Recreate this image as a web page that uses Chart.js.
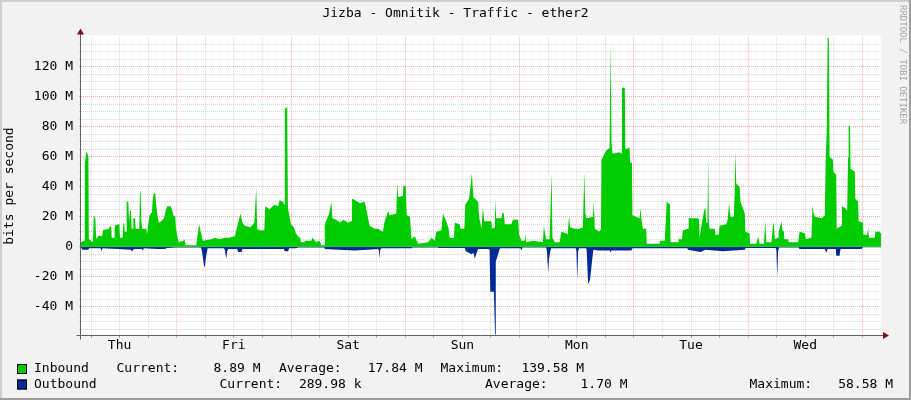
<!DOCTYPE html>
<html>
<head>
<meta charset="utf-8">
<script src="https://cdn.jsdelivr.net/npm/chart.js@4"></script>
<style>
  html, body { margin: 0; padding: 0; background: #f2f2f2; }
  #wrap { position: relative; width: 911px; height: 400px; }
</style>
</head>
<body>
<div id="wrap"><canvas id="trafficChart" width="911" height="400"></canvas></div>
<script>
// time axis: hours since Thu 00:00, values in Mbit/s
const startHour = 3.9;
const endHour = 171.9;
const dayNames = ["Thu", "Fri", "Sat", "Sun", "Mon", "Tue", "Wed"];
const yMin = -58.58;
const yMax = 139.58;

const chartTitle = "Jizba - Omnitik - Traffic - ether2";
const yAxisTitle = "bits per second";
const legendNames = ["Inbound", "Outbound"];
const inboundStats = ["8.89 M", "17.84 M", "139.58 M"];
const outboundStats = ["289.98 k", "1.70 M", "58.58 M"];

// [hour, Mbit/s]
const inbound = [
  [3.9,3],[4.6,4],[4.7,56],[5.1,64],[5.45,60],[5.55,5],[6.4,3],[6.6,21],[6.9,19],[7.05,8],
  [7.12,5],[7.61,7.5],[8.31,7],[8.52,11],[9.71,12],[10.06,14],[10.27,13],[10.34,6],[10.83,6],[10.97,12],
  [11.11,14.6],[11.95,15],[12.09,6],[12.65,6],[12.79,16],[13.0,15],[13.07,10],[13.35,10],[13.49,30],[13.84,30],
  [13.98,17],[14.19,24],[14.4,24],[14.54,12],[14.82,12],[14.89,19],[15.24,19],[15.38,12],[16.15,12],[16.29,38],
  [16.43,36],[16.57,17],[16.78,12],[17.62,12],[17.76,8],[17.97,14],[18.31,21],[18.8,23],[18.95,31],[19.23,36],
  [19.51,35],[19.65,29],[19.93,22],[20.21,16],[20.77,17],[21.32,19],[21.67,24],[22.03,27],[22.72,27],[23.0,25],
  [23.28,21],[23.7,20],[23.84,12],[24.2,6],[24.4,3],
  [25.4,4],[25.6,5],[25.9,1],[28.1,1],[28.4,8],[28.7,15],[29.1,9],[29.5,4],[31.3,5],[32,6],
  [33,5],[34.1,6],[35,6],[36.2,7],[36.6,12],[37.4,22],[37.8,16],[38.3,14],[39.5,13],[40.3,16],
  [40.7,39],[40.9,12],[41.4,11],[42.4,11],[42.6,27],[43.5,25],[44.5,28],[45.3,27],[45.6,31],[46.3,30],
  [46.6,28],[46.7,92],[47.2,93],[47.35,26],[47.7,20],[48.0,15],[48.6,13],[49,9],[49.7,6],[49.8,8],
  [50.1,3],[50.8,3],[51,4],[52.3,4],[52.5,6],[53.3,3],[54.0,4],[54.4,1],[55.05,1],[55.1,15],
  [56,22],[56.45,30],[56.7,19],[57.5,18],[58.3,16],[59,18],[60,16],[60.6,17],[60.8,32],[61.5,31],
  [62.5,29],[63.5,30],[64.5,14],[65.5,12],[66.3,12],[67.3,10],[67.6,16],[68.4,24],[68.7,21],[70.1,22],
  [70.3,43],[70.5,33],[71.5,34],[71.6,41],[72.1,40],[72.3,21],[73.0,20],[73.3,5],[74.0,7],[74.7,2],
  [76.8,3],[77.5,6],[78.2,4],[78.5,10],[79.6,11],[79.9,22],[80.5,18],[81.1,12],[81.3,6],[82.2,6],
  [82.4,16],[83.4,15],[83.6,12],[84.4,12],[84.6,28],[85.4,32],[85.6,38],[86.0,49],[86.3,33],[87.3,30],
  [87.5,20],[88,12],[88.3,26],[88.6,17],[89.5,17],[90.1,17],[90.2,12],[90.8,13],[90.9,31],[91.1,19],
  [92.2,19],[92.4,23],[92.7,22],[92.9,15],[94.3,15],[94.6,18],[95.7,18],[95.9,8],[96.4,4],[97.1,4],
  [97.2,9],[97.4,3],[98.8,4],[100.9,3],[101.1,14],[101.4,8],[101.6,5],[102.3,5],[102.75,49],[102.9,6],
  [103.4,3],[104.4,3],[104.8,10],[105.8,9],[106.1,8],[106.4,21],[106.6,13],[107.6,12],[108.6,12],[109.3,13],
  [109.6,50],[109.8,22],[110.1,19],[111.4,20],[111.6,30],[111.8,12],[112.8,10],[113.1,12],[113.2,58],[114.2,64],
  [114.9,66],[115.1,136],[115.3,70],[115.5,62],[117,63],[117.45,62],[117.5,106],[118.1,106],[118.2,65],[119.1,66],
  [119.2,56],[119.6,56],[119.7,21],[121.2,19],[121.4,26],[121.6,18],[121.9,12],[122.6,12],[122.7,2],[125.4,2],
  [125.5,4],[126.5,4],[126.9,30],[127.6,28],[127.7,3],[129.3,3],[129.4,5],[130.1,5],[130.3,11],[131.4,12],
  [131.5,19],[133.5,19],[133.7,18],[133.8,6],[134.2,14],[134.8,25],[135.0,26],[135.2,16],[135.45,16],[135.6,59],
  [135.75,16],[135.9,12],[137,12],[137.1,8],[137.8,8],[138,14],[139.4,15],[139.7,18],[140,29],[140.3,20],
  [141.0,20],[141.2,40],[141.3,64],[141.5,42],[142.2,40],[142.4,30],[143.3,22],[143.4,10],[144.3,9],[144.4,2],
  [145.7,2],[146.1,7],[146.4,2],[147.3,2],[147.6,17],[147.8,3],[148.9,3],[149.2,14],[149.4,16],[149.6,5],
  [150.3,6],[150.4,10],[151,17],[151.2,11],[151.5,10],[151.6,5],[152.4,5],[152.5,3],[154.5,3],[154.8,10],
  [155.9,9],[156.1,5],[157.3,6],[157.5,27],[157.8,22],[158,20],[159.5,19],[160.1,21],[160.3,60],[160.5,76],
  [160.7,139.58],[160.95,139],[161.1,60],[161.8,58],[161.9,50],[162.5,48],[162.6,12],[163.6,14],[163.7,27],[164.3,26],
  [164.8,24],[165.0,60],[165.1,81],[165.4,80],[165.5,52],[166.4,50],[166.5,32],[167.1,30],[167.2,17],[168.1,16],
  [168.2,8],[169.0,8],[169.2,12],[169.4,6],[170.6,6],[170.7,10],[171.6,10],[171.9,8.89]
];

// outbound is drawn below zero
const outbound = [
  [3.9,-0.5],[4.2,-2],[5.4,-2],[5.6,-1],[8.0,-1],[8.2,-3],[8.4,-1],[11.7,-1.5],[14.4,-2],[14.6,-3.5],
  [14.8,-2],[15.2,-1.5],[16.7,-1.5],[16.9,-2.5],[17.1,-1],[20,-1.5],[21.5,-1.5],[22,-0.8],[24,-0.5],[29.1,-0.5],
  [29.3,-3],[29.7,-12],[29.9,-14],[30.1,-8],[30.3,-4],[30.5,-1],[33.9,-1],[34.1,-2],[34.4,-8],[34.6,-3],
  [34.8,-1.5],[36.7,-1.5],[36.9,-3.5],[37.6,-3.5],[37.8,-1.5],[44,-1.5],[46.5,-1.5],[46.7,-3],[47.4,-3],[47.6,-1],
  [49.1,-1],[49.5,-0.5],[55,-0.5],[55.1,-1.5],[58,-2],[61.4,-2.5],[64,-2],[66.3,-1.5],[66.5,-3],[66.6,-8],
  [66.75,-2],[67,-1],[73.3,-1],[73.5,-0.5],[78.9,-0.5],[79,-0.8],[84.5,-0.8],[84.7,-3],[85.9,-5],[86.3,-4],
  [86.6,-8],[87,-4],[87.3,-1.5],[89.4,-1.5],[89.7,-2],[89.85,-30],[90.6,-30],[90.85,-58.58],[91.0,-10],[91.5,-5],
  [91.8,-1.5],[92,-1],[96.2,-1],[96.4,-2.5],[96.6,-0.5],[101.6,-0.5],[101.75,-3],[102.0,-17],[102.2,-8],[102.4,-4],
  [102.6,-1],[107.8,-1],[107.95,-3],[108.1,-22],[108.3,-3],[108.5,-1],[110,-1],[110.1,-3],[110.4,-25],[110.8,-22],
  [111.2,-10],[111.5,-2],[112.5,-2.5],[115,-2.5],[115.1,-4],[115.3,-2.5],[119.5,-2.5],[119.7,-1],[131.2,-1],[131.4,-2],
  [134,-3.5],[135,-2],[138.7,-3],[143.3,-2],[143.5,-0.8],[149.8,-0.8],[149.95,-3],[150.1,-20],[150.3,-3],[150.5,-0.5],
  [154.6,-0.5],[154.8,-1.5],[160.1,-1.5],[160.4,-4],[160.7,-1.5],[162.4,-1.5],[162.5,-6],[163.2,-6],[163.4,-1.5],[167.8,-1.5],
  [168.1,-0.3],[171.9,-0.29]
];

const MONO = "'DejaVu Sans Mono', 'Liberation Mono', monospace";
const greenFill = "#00cc00";
const blueFill = "#002a97";
const minorGrid = "rgba(143,143,143,0.35)";
const majorGrid = "rgba(222,80,80,0.45)";

// rrdtool look: background, canvas, frame, axes with arrows, texts, legend
const rrdPlugin = {
  id: "rrdLook",
  beforeDraw(chart) {
    const ctx = chart.ctx;
    const a = chart.chartArea;
    ctx.save();
    ctx.fillStyle = "#f2f2f2";
    ctx.fillRect(0, 0, chart.width, chart.height);
    ctx.fillStyle = "#ffffff";
    ctx.fillRect(a.left, a.top - 2, a.right - a.left, a.bottom - a.top + 3);
    // 3d frame
    ctx.fillStyle = "#cfcfcf";
    ctx.fillRect(0, 0, chart.width, 2);
    ctx.fillRect(0, 0, 2, chart.height);
    ctx.fillStyle = "#9e9e9e";
    ctx.fillRect(0, chart.height - 2, chart.width, 2);
    ctx.fillRect(chart.width - 2, 0, 2, chart.height);
    ctx.restore();
  },
  afterDraw(chart) {
    const ctx = chart.ctx;
    const a = chart.chartArea;
    ctx.save();

    // axes
    const ax = Math.floor(a.left) - 0.5;
    const ay = Math.round(a.bottom) + 0.5;
    ctx.strokeStyle = "#606060";
    ctx.lineWidth = 1;
    ctx.beginPath();
    ctx.moveTo(ax, ay + 4);
    ctx.lineTo(ax, a.top - 4);
    ctx.moveTo(ax - 4, ay);
    ctx.lineTo(a.right + 3, ay);
    ctx.stroke();
    ctx.fillStyle = "#7f1010";
    ctx.beginPath();
    ctx.moveTo(ax, a.top - 9);
    ctx.lineTo(ax - 3.5, a.top - 3);
    ctx.lineTo(ax + 3.5, a.top - 3);
    ctx.closePath();
    ctx.fill();
    ctx.beginPath();
    ctx.moveTo(a.right + 8, ay);
    ctx.lineTo(a.right + 2, ay - 3.5);
    ctx.lineTo(a.right + 2, ay + 3.5);
    ctx.closePath();
    ctx.fill();

    // title
    ctx.fillStyle = "#000";
    ctx.font = "13px " + MONO;
    ctx.textAlign = "center";
    ctx.textBaseline = "middle";
    ctx.fillText(chartTitle, chart.width / 2, 14);

    // vertical axis title
    ctx.save();
    ctx.translate(10, (a.top + a.bottom) / 2);
    ctx.rotate(-Math.PI / 2);
    ctx.fillText(yAxisTitle, 0, 0);
    ctx.restore();

    // watermark
    ctx.save();
    ctx.translate(902, 5);
    ctx.rotate(Math.PI / 2);
    ctx.font = "9px " + MONO;
    ctx.fillStyle = "#a6a6a6";
    ctx.textAlign = "left";
    ctx.fillText("RRDTOOL / TOBI OETIKER", 0, 0);
    ctx.restore();

    // legend
    const rows = [
      { y: 369, color: greenFill, name: legendNames[0], stats: inboundStats,
        labelX: [116.5, 279, 440.5], valueX: [260.5, 422.5, 584] },
      { y: 384.5, color: blueFill, name: legendNames[1], stats: outboundStats,
        labelX: [219.5, 485, 749.5], valueX: [361.5, 627.5, 893] }
    ];
    const statNames = ["Current:", "Average:", "Maximum:"];
    ctx.font = "13px " + MONO;
    ctx.textBaseline = "middle";
    rows.forEach((r) => {
      ctx.fillStyle = r.color;
      ctx.fillRect(17, r.y - 5, 10, 10);
      ctx.strokeStyle = "#000";
      ctx.strokeRect(17.5, r.y - 4.5, 9, 9);
      ctx.fillStyle = "#000";
      ctx.textAlign = "left";
      ctx.fillText(r.name, 34, r.y);
      statNames.forEach((s, i) => {
        ctx.textAlign = "left";
        ctx.fillText(s, r.labelX[i], r.y);
        ctx.textAlign = "right";
        ctx.fillText(r.stats[i], r.valueX[i], r.y);
      });
    });
    ctx.restore();
  }
};

const xTicks = [];
for (let h = 6; h <= 168; h += 6) xTicks.push(h);
const yTicks = [];
for (let v = -55; v <= 135; v += 5) yTicks.push(v);

new Chart(document.getElementById("trafficChart"), {
  type: "line",
  data: {
    datasets: [
      {
        label: legendNames[0],
        data: inbound.map(([t, v]) => ({ x: t, y: v })),
        backgroundColor: greenFill,
        borderWidth: 0,
        pointRadius: 0,
        fill: "origin",
        tension: 0
      },
      {
        label: legendNames[1],
        data: outbound.map(([t, v]) => ({ x: t, y: v })),
        backgroundColor: blueFill,
        borderColor: blueFill,
        borderWidth: 0,
        pointRadius: 0,
        fill: "origin",
        tension: 0
      }
    ]
  },
  options: {
    responsive: false,
    animation: false,
    devicePixelRatio: 1,
    layout: { padding: { left: 0, right: 30, top: 37.4, bottom: 40.3 } },
    plugins: {
      legend: { display: false },
      title: { display: false },
      tooltip: { enabled: false }
    },
    scales: {
      x: {
        type: "linear",
        min: startHour,
        max: endHour,
        afterBuildTicks: (s) => { s.ticks = xTicks.map((v) => ({ value: v })); },
        afterFit: (s) => { s.height = 25; },
        border: { display: false, dash: [1, 1] },
        grid: {
          color: (c) => (c.tick && c.tick.value % 24 === 0 ? majorGrid : minorGrid),
          tickColor: (c) => (c.tick && c.tick.value % 24 === 0 ? "rgba(222,80,80,0.6)" : "#9a9a9a"),
          tickLength: 3,
          tickBorderDash: []
        },
        ticks: {
          autoSkip: false,
          maxRotation: 0,
          padding: 0,
          color: "#000",
          font: { family: MONO, size: 13 },
          callback: (v) => (v % 24 === 12 ? dayNames[(v - 12) / 24] : "")
        }
      },
      y: {
        min: yMin,
        max: yMax,
        afterBuildTicks: (s) => { s.ticks = yTicks.map((v) => ({ value: v })); },
        afterFit: (s) => { s.width = 81; },
        border: { display: false, dash: [1, 1] },
        grid: {
          color: (c) => (c.tick && c.tick.value % 20 === 0 ? majorGrid : minorGrid),
          tickLength: 2,
          tickBorderDash: []
        },
        ticks: {
          autoSkip: false,
          padding: 6,
          color: "#000",
          font: { family: MONO, size: 13 },
          callback: (v) => (v % 20 === 0 ? (v === 0 ? "0" : v + " M") : "")
        }
      }
    }
  },
  plugins: [rrdPlugin]
});
</script>
</body>
</html>
